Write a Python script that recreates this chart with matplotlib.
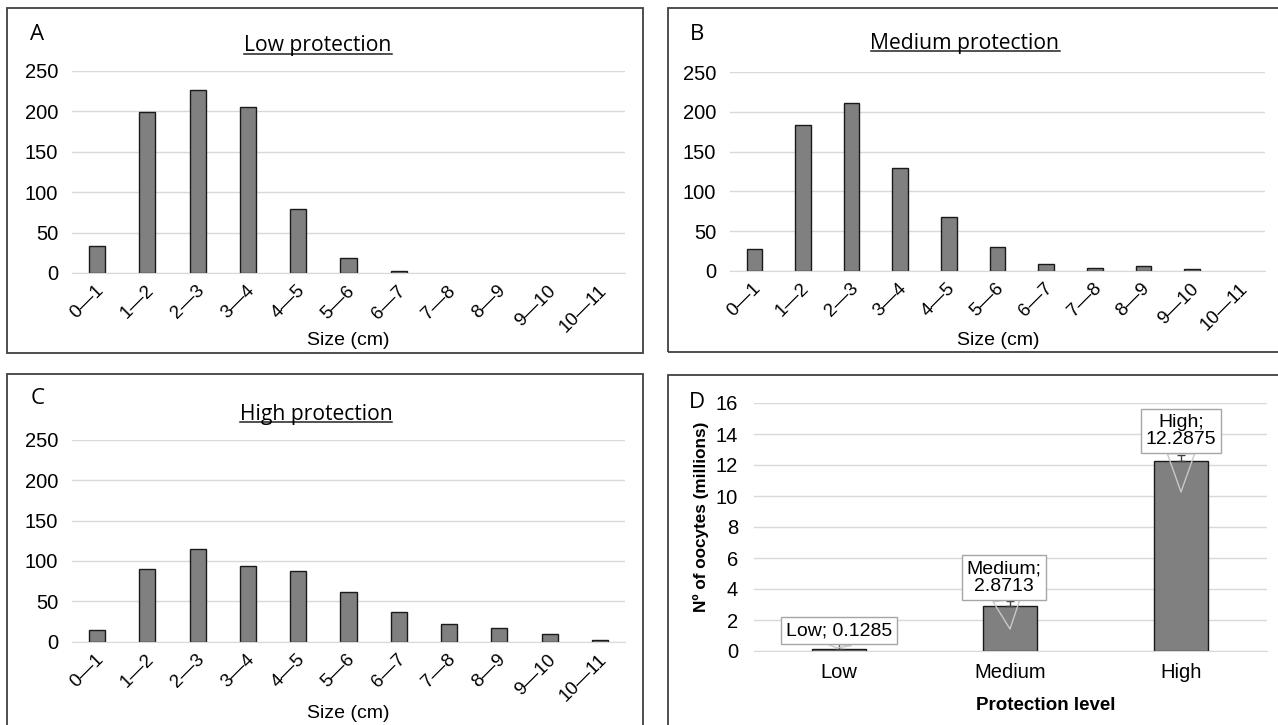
import matplotlib
matplotlib.use("Agg")
import matplotlib.pyplot as plt
import matplotlib.transforms as mtransforms
from matplotlib.patches import Rectangle
from matplotlib.lines import Line2D

# size-class histograms (number of individuals)
size_classes = ["0—1", "1—2", "2—3", "3—4", "4—5", "5—6",
                "6—7", "7—8", "8—9", "9—10", "10—11"]
low_counts = [34, 199, 227, 205, 79, 19, 3, 0, 0, 0, 0]
medium_counts = [27, 183, 211, 130, 68, 30, 9, 3, 6, 2, 0]
high_counts = [14, 90, 115, 94, 87, 61, 37, 22, 17, 9, 2]

# oocyte production per protection level
protection_levels = ["Low", "Medium", "High"]
oocytes_millions = [0.1285, 2.8713, 12.2875]
oocytes_err = [0.4, 0.35, 0.35]

W, H = 1278, 725
BAR = "#808080"
GRID = "#d9d9d9"
FRAME = "#404040"
ARIAL = "Liberation Sans"
TITLE_FONT = "Open Sans"

fig = plt.figure(figsize=(W / 100, H / 100), dpi=100)


def rect(l, t, r, b):
    return [l / W, 1 - b / H, (r - l) / W, (b - t) / H]


def fxy(x, y):
    return x / W, 1 - y / H


def frame(l, t, r, b):
    fig.patches.append(Rectangle((l / W, 1 - b / H), (r - l) / W, (b - t) / H,
                                 transform=fig.transFigure, fill=False,
                                 edgecolor=FRAME, linewidth=1.3))


def style_axes(ax):
    for s in ["top", "right", "left"]:
        ax.spines[s].set_visible(False)
    ax.spines["bottom"].set_color(GRID)
    ax.yaxis.grid(True, color=GRID, linewidth=1)
    ax.set_axisbelow(True)
    ax.tick_params(length=0)


histograms = [
    dict(letter="A", title="Low protection", counts=low_counts,
         frame=(7, 8, 643, 353), plot=(72, 71, 625, 273),
         letter_xy=(30, 34), title_xy=(318, 51.5), xlabel_xy=(348, 340)),
    dict(letter="B", title="Medium protection", counts=medium_counts,
         frame=(668, 8, 1290, 352), plot=(730, 72.3, 1265, 270.7),
         letter_xy=(690, 34), title_xy=(965, 48.5), xlabel_xy=(998, 340)),
    dict(letter="C", title="High protection", counts=high_counts,
         frame=(7, 374, 643, 735), plot=(72, 439.7, 625, 641.7),
         letter_xy=(31, 399), title_xy=(316, 420), xlabel_xy=(348, 713)),
]

titles = []
for h in histograms:
    frame(*h["frame"])
    ax = fig.add_axes(rect(*h["plot"]))
    x = range(len(size_classes))
    bars = ax.bar(x, h["counts"], width=0.32, color=BAR, edgecolor="#1a1a1a",
                  linewidth=1)
    for b in bars:
        if b.get_height() == 0:
            b.set_visible(False)
    ax.set_xlim(-0.5, len(size_classes) - 0.5)
    ax.set_ylim(0, 250)
    ax.set_yticks(range(0, 251, 50))
    style_axes(ax)
    ax.tick_params(axis="y", labelsize=14.5, pad=10)
    ax.tick_params(axis="x", pad=11)
    for lab in ax.get_yticklabels():
        lab.set_fontfamily(ARIAL)
    ax.set_xticks(list(x))
    ax.set_xticklabels(size_classes, rotation=45, ha="right", va="center",
                       rotation_mode="anchor", fontsize=13.5, fontfamily=ARIAL)
    shift = mtransforms.ScaledTranslation(4 / 100, 0, fig.dpi_scale_trans)
    for lab in ax.get_xticklabels():
        lab.set_transform(lab.get_transform() + shift)

    fig.text(*fxy(*h["letter_xy"]), h["letter"], fontsize=16,
             fontfamily=TITLE_FONT, ha="left", va="center")
    t = fig.text(*fxy(*h["title_xy"]), h["title"], fontsize=15.2,
                 fontfamily=TITLE_FONT, ha="center", va="baseline")
    titles.append((t, h["title_xy"][1]))
    fig.text(*fxy(*h["xlabel_xy"]), "Size (cm)", fontsize=14,
             fontfamily=ARIAL, ha="center", va="center")

# panel D: oocytes per protection level
frame(668, 375, 1290, 735)
axd = fig.add_axes(rect(753.5, 403, 1266.5, 651))
xd = range(len(protection_levels))
axd.bar(xd, oocytes_millions, width=0.32, color=BAR, edgecolor="#1a1a1a",
        linewidth=1)
axd.errorbar(xd, oocytes_millions,
             yerr=[[0] * len(oocytes_err), oocytes_err], fmt="none",
             ecolor="#404040", elinewidth=1, capsize=3, zorder=2)
axd.set_xlim(-0.5, len(protection_levels) - 0.5)
axd.set_ylim(0, 16)
axd.set_yticks(range(0, 17, 2))
style_axes(axd)
axd.tick_params(axis="y", labelsize=14.5, pad=11)
axd.tick_params(axis="x", labelsize=14.5, pad=9)
axd.set_xticks(list(xd))
axd.set_xticklabels(protection_levels)
for lab in axd.get_xticklabels() + axd.get_yticklabels():
    lab.set_fontfamily(ARIAL)

# data callouts: box centre and wedge tip in data units
callout_box = [(0.0, 1.32), (0.965, 4.74), (2.0, 14.19)]
callout_tip = [(-0.01, 0.2), (1.0, 1.42), (2.0, 10.26)]
label_sep = [" ", "\n", "\n"]
for i, (lvl, val) in enumerate(zip(protection_levels, oocytes_millions)):
    axd.annotate(f"{lvl};{label_sep[i]}{val}", xy=callout_tip[i],
                 xytext=callout_box[i], textcoords="data",
                 ha="center", va="center", fontsize=14, fontfamily=ARIAL,
                 linespacing=1.05, zorder=5,
                 bbox=dict(boxstyle="square,pad=0.25", fc="white",
                           ec="#a6a6a6", lw=1),
                 arrowprops=dict(arrowstyle="wedge,tail_width=1.4",
                                 fc="none", ec="#c8c8c8", lw=1,
                                 shrinkA=0, shrinkB=0))

fig.text(*fxy(697, 402), "D", fontsize=16, fontfamily=TITLE_FONT,
         ha="center", va="center")
fig.text(*fxy(701, 517), "Nº of oocytes (millions)", rotation=90,
         fontsize=12.3, fontweight="bold", fontfamily=ARIAL,
         ha="center", va="center")
fig.text(*fxy(1046, 705), "Protection level", fontsize=13.5,
         fontweight="bold", fontfamily=ARIAL, ha="center", va="center")

# underline the histogram titles
fig.canvas.draw()
renderer = fig.canvas.get_renderer()
for t, base_y in titles:
    bb = t.get_window_extent(renderer)
    y = 1 - (base_y + 2.2) / H
    fig.add_artist(Line2D([bb.x0 / W, bb.x1 / W], [y, y],
                          transform=fig.transFigure, color="#222222",
                          linewidth=1.1))

fig.savefig("out.png", dpi=100)
